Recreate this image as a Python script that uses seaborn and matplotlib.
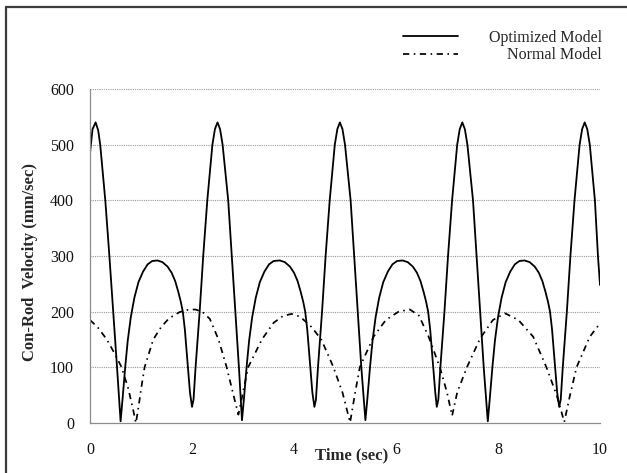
import matplotlib
matplotlib.use("Agg")
import matplotlib.pyplot as plt
from matplotlib.lines import Line2D
import pandas as pd
import seaborn as sns

# ---- data ----
opt_time = [0.00, 0.05, 0.11, 0.16, 0.20, 0.30, 0.38, 0.455, 0.53, 0.60,
            0.64, 0.69, 0.74, 0.80, 0.87, 0.95, 1.04, 1.13, 1.22, 1.32, 1.42, 1.52, 1.60, 1.67,
            1.73, 1.78, 1.82, 1.86, 1.89, 1.92, 1.96, 2.00, 2.03, 2.07, 2.15, 2.22, 2.30, 2.40,
            2.45, 2.50, 2.55, 2.60, 2.71, 2.78, 2.85, 2.92, 2.98,
            3.02, 3.07, 3.12, 3.18, 3.25, 3.33, 3.42, 3.51, 3.60, 3.72, 3.82, 3.92, 4.00, 4.07,
            4.13, 4.18, 4.22, 4.26, 4.29, 4.32, 4.36, 4.40, 4.43, 4.47, 4.55, 4.62, 4.70, 4.80,
            4.85, 4.90, 4.95, 5.00, 5.11, 5.18, 5.25, 5.32, 5.40,
            5.44, 5.49, 5.54, 5.60, 5.67, 5.75, 5.84, 5.93, 6.02, 6.13, 6.23, 6.33, 6.41, 6.48,
            6.54, 6.59, 6.63, 6.67, 6.70, 6.73, 6.77, 6.80, 6.83, 6.87, 6.95, 7.02, 7.10, 7.20,
            7.25, 7.30, 7.35, 7.40, 7.51, 7.58, 7.65, 7.72, 7.80,
            7.84, 7.89, 7.94, 8.00, 8.07, 8.15, 8.24, 8.33, 8.42, 8.52, 8.62, 8.72, 8.80, 8.87,
            8.93, 8.98, 9.02, 9.06, 9.09, 9.12, 9.16, 9.20, 9.23, 9.27, 9.35, 9.42, 9.50, 9.60,
            9.65, 9.70, 9.75, 9.80, 9.90, 9.96, 10.00]
opt_vel = [485, 528, 540, 526, 500, 400, 300, 200, 100, 3,
           45, 100, 148, 190, 225, 253, 272, 285, 291, 292, 289, 281, 270, 255,
           236, 218, 200, 168, 135, 100, 55, 29, 42, 100, 200, 300, 400, 500,
           528, 540, 528, 500, 400, 300, 200, 100, 5,
           45, 100, 148, 190, 225, 253, 272, 285, 291, 292, 289, 281, 270, 255,
           236, 218, 200, 168, 135, 100, 55, 29, 42, 100, 200, 300, 400, 500,
           528, 540, 528, 500, 400, 300, 200, 100, 5,
           45, 100, 148, 190, 225, 253, 272, 285, 291, 292, 289, 281, 270, 255,
           236, 218, 200, 168, 135, 100, 55, 29, 42, 100, 200, 300, 400, 500,
           528, 540, 528, 500, 400, 300, 200, 100, 3,
           45, 100, 148, 190, 225, 253, 272, 285, 291, 292, 289, 281, 270, 255,
           236, 218, 200, 168, 135, 100, 55, 29, 42, 100, 200, 300, 400, 500,
           528, 540, 528, 500, 400, 300, 248]

norm_time = [0.00, 0.15, 0.33, 0.50, 0.62, 0.75, 0.85, 0.90,
             0.95, 1.00, 1.07, 1.24, 1.40, 1.55, 1.75, 1.90, 2.06, 2.20, 2.35, 2.52, 2.68, 2.80, 2.91,
             3.00, 3.10, 3.37, 3.60, 3.78, 3.95, 4.12, 4.35, 4.54, 4.77, 4.95, 5.10,
             5.20, 5.29, 5.56, 5.80, 6.05, 6.27, 6.45, 6.64, 6.86, 7.00, 7.10,
             7.20, 7.39, 7.65, 7.90, 8.14, 8.40, 8.69, 8.95, 9.15, 9.30,
             9.40, 9.54, 9.80, 10.00]
norm_vel = [185, 172, 150, 122, 100, 62, 22, 0,
            28, 60, 100, 150, 173, 188, 199, 203, 204, 200, 187, 150, 100, 55, 15,
            55, 100, 150, 180, 192, 196, 191, 172, 149, 101, 55, 1,
            55, 100, 155, 185, 200, 204, 193, 155, 100, 55, 13,
            55, 100, 152, 185, 197, 185, 155, 100, 50, 2,
            45, 100, 155, 179]

x_ticks = [0, 2, 4, 6, 8, 10]
y_ticks = [0, 100, 200, 300, 400, 500, 600]
series_names = ["Optimized Model", "Normal Model"]

# ---- style ----
sns.set_style("white")
plt.rcParams["font.family"] = ["Liberation Serif", "DejaVu Serif"]

W, H = 627, 473
fig = plt.figure(figsize=(W / 100, H / 100), dpi=100)
ax = fig.add_axes([90 / W, 1 - 423 / H, (600 - 90) / W, (423 - 89) / H])

df_opt = pd.DataFrame({"t": opt_time, "v": opt_vel})
df_norm = pd.DataFrame({"t": norm_time, "v": norm_vel})

dashdot = (0, (3.6, 2.6, 0.9, 2.6))
sns.lineplot(data=df_opt, x="t", y="v", ax=ax, color="black", lw=1.3,
             sort=False, estimator=None)
sns.lineplot(data=df_norm, x="t", y="v", ax=ax, color="black", lw=1.25,
             sort=False, estimator=None, linestyle=dashdot)

ax.set_xlim(0, 10)
ax.set_ylim(0, 600)
ax.set_xticks(x_ticks)
ax.set_yticks(y_ticks)
ax.set_xticklabels([str(v) for v in x_ticks])
ax.set_yticklabels([str(v) for v in y_ticks])
ax.set_xlabel("")
ax.set_ylabel("")

for y in y_ticks[1:]:
    ax.axhline(y, color="#9a9a9a", lw=0.8, ls=(0, (1, 1)), zorder=0)

for s in ["top", "right"]:
    ax.spines[s].set_visible(False)
for s in ["left", "bottom"]:
    ax.spines[s].set_color("#8c8c8c")
    ax.spines[s].set_linewidth(0.9)

ax.tick_params(axis="y", direction="out", length=2.5, width=0.8, color="#8c8c8c",
               pad=9, labelsize=11.5, labelcolor="#111111")
ax.tick_params(axis="x", direction="out", length=2.5, width=0.8, color="#8c8c8c",
               pad=11, labelsize=11.5, labelcolor="#111111")

# axis titles
fig.text(30 / W, 1 - 262 / H, "Con-Rod  Velocity (mm/sec)", rotation=90,
         ha="center", va="center", fontsize=12, fontweight="bold")
fig.text(352 / W, 1 - 455 / H, "Time (sec)", ha="center", va="center",
         fontsize=12, fontweight="bold")

# legend (sample line left, text right-aligned as in the reference)
fig.add_artist(Line2D([403 / W, 458 / W], [1 - 36 / H, 1 - 36 / H],
                      transform=fig.transFigure, color="black", lw=1.3))
fig.add_artist(Line2D([403 / W, 458 / W], [1 - 54.5 / H, 1 - 54.5 / H],
                      transform=fig.transFigure, color="black", lw=1.25,
                      linestyle=dashdot))
fig.text(602 / W, 1 - 38 / H, series_names[0], ha="right", va="center", fontsize=11.5)
fig.text(602 / W, 1 - 55 / H, series_names[1], ha="right", va="center", fontsize=11.5)

# outer page frame
fig.add_artist(Line2D([6 / W, 6 / W], [0, 1 - 7 / H], transform=fig.transFigure,
                      color="#3c3c3c", lw=1.6))
fig.add_artist(Line2D([6 / W, 1.0], [1 - 7 / H, 1 - 7 / H], transform=fig.transFigure,
                      color="#3c3c3c", lw=1.6))

fig.savefig("out.png", dpi=100)
